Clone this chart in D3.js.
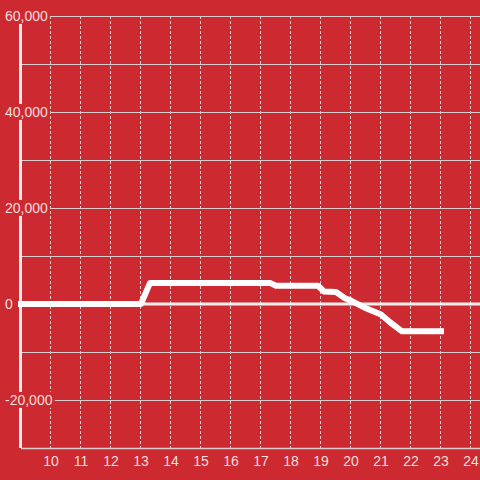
<!DOCTYPE html>
<html>
<head>
<meta charset="utf-8">
<script src="https://cdn.jsdelivr.net/npm/d3@7"></script>
<style>
	html, body { margin: 0; padding: 0; background: #cc2a30; }
	svg { display: block; font-family: "Liberation Sans", Arial, sans-serif; }
</style>
</head>
<body>
<svg id="viz" width="480" height="480"></svg>
<script>
// hours (x) and values (y)
var hours = [9, 13, 13.3, 17.3, 17.5, 18.9, 19.1, 19.5, 19.8, 20, 20.5, 21, 21.3, 21.7, 23];
var values = [0, 0, 4400, 4400, 3800, 3800, 2600, 2500, 1200, 700, -900, -2200, -3800, -5700, -5700];
var xTicks = [10, 11, 12, 13, 14, 15, 16, 17, 18, 19, 20, 21, 22, 23, 24];
var yTicks = [-20000, 0, 20000, 40000, 60000];
var yGrid = [-30000, -20000, -10000, 10000, 20000, 30000, 40000, 50000, 60000];

var width = 480,
	height = 480,
	plotLeft = 21,
	plotTop = 16,
	plotBottom = 448;

var svg = d3.select("#viz");
var x = d3.scaleLinear().domain([9, 24.3]).range([plotLeft, width]);
var y = d3.scaleLinear().domain([-30000, 60000]).range([plotBottom, plotTop]);
var fmt = d3.format(",");
var textColor = "#f3dede";

svg.append("rect")
	.attr("width", width).attr("height", height)
	.attr("fill", "#cc2a30");

// vertical dashed grid
svg.append("g")
	.selectAll("line")
	.data(xTicks)
	.enter().append("line")
	.attr("x1", function (d) { return Math.round(x(d)) - 0.5; })
	.attr("x2", function (d) { return Math.round(x(d)) - 0.5; })
	.attr("y1", plotTop).attr("y2", plotBottom)
	.attr("stroke", "#e0cccc")
	.attr("stroke-width", 1)
	.attr("stroke-dasharray", "3,2");

// horizontal grid
svg.append("g")
	.selectAll("line")
	.data(yGrid)
	.enter().append("line")
	.attr("x1", plotLeft).attr("x2", width)
	.attr("y1", function (d) { return Math.round(y(d)) + 0.5; })
	.attr("y2", function (d) { return Math.round(y(d)) + 0.5; })
	.attr("stroke", "#d9cccc")
	.attr("stroke-width", function (d) { return d === -30000 ? 1.5 : 1; });

// zero line
svg.append("line")
	.attr("x1", plotLeft).attr("x2", width)
	.attr("y1", y(0)).attr("y2", y(0))
	.attr("stroke", "#f2eeee")
	.attr("stroke-width", 3);

// y axis line
svg.append("line")
	.attr("x1", 20.5).attr("x2", 20.5)
	.attr("y1", plotTop).attr("y2", plotBottom)
	.attr("stroke", "#f2eeee")
	.attr("stroke-width", 3);

// data line
var line = d3.line()
	.x(function (d, i) { return x(hours[i]); })
	.y(function (d) { return y(d); });

svg.append("path")
	.datum(values)
	.attr("d", line)
	.attr("fill", "none")
	.attr("stroke", "#ffffff")
	.attr("stroke-width", 6)
	.attr("stroke-linecap", "square")
	.attr("stroke-linejoin", "round");

// y labels with red backing
var yLab = svg.append("g")
	.selectAll("g")
	.data(yTicks)
	.enter().append("g")
	.attr("transform", function (d) { return "translate(5," + y(d) + ")"; });

yLab.append("text")
	.attr("dy", "0.35em")
	.attr("font-size", 14)
	.attr("fill", textColor)
	.text(function (d) { return d < 0 ? "-" + fmt(-d) : fmt(d); });

yLab.each(function () {
	var g = d3.select(this),
		b = g.select("text").node().getBBox();
	g.insert("rect", "text")
		.attr("x", b.x - 1)
		.attr("y", b.y)
		.attr("width", b.width + 3)
		.attr("height", b.height)
		.attr("fill", "#cc2a30");
});

// x labels
svg.append("g")
	.selectAll("text")
	.data(xTicks)
	.enter().append("text")
	.attr("x", function (d) { return x(d); })
	.attr("y", 461)
	.attr("dy", "0.35em")
	.attr("text-anchor", "middle")
	.attr("font-size", 14)
	.attr("fill", textColor)
	.text(function (d) { return d; });
</script>
</body>
</html>
